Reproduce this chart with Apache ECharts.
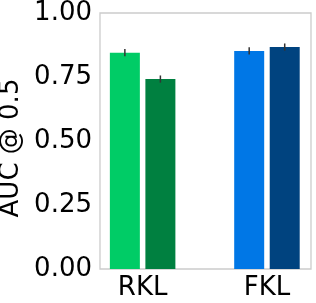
<!DOCTYPE html>
<html>
<head>
<meta charset="utf-8">
<script src="https://cdn.jsdelivr.net/npm/echarts@6/dist/echarts.min.js"></script>
<style>
html,body{margin:0;padding:0;background:#fff;}
#chart{width:316px;height:303px;}
</style>
</head>
<body>
<div id="chart"></div>
<script>
// Data
const categories = ['RKL', 'FKL'];
const categoryCenters = [0, 3.5];          // x-axis value of each group centre
const barOffsets = [-0.5, 0.5];            // two bars per group
const rklValues = [0.845, 0.742];
const fklValues = [0.852, 0.867];
const rklErrors = [0.014, 0.014];
const fklErrors = [0.014, 0.014];
const barColors = ['#00cc66', '#008040', '#0077e6', '#00437f'];
const yTicks = [0, 0.25, 0.5, 0.75, 1.0];

const groups = [rklValues, fklValues];
const groupErrors = [rklErrors, fklErrors];
const barData = [];
const errData = [];
groups.forEach((vals, g) => {
  vals.forEach((v, i) => {
    const x = categoryCenters[g] + barOffsets[i];
    barData.push({value: [x, v], itemStyle: {color: barColors[g * 2 + i]}});
    errData.push([x, v - groupErrors[g][i], v + groupErrors[g][i]]);
  });
});

const chart = echarts.init(document.getElementById('chart'), null, {renderer: 'canvas'});
const font = 'DejaVu Sans';
chart.setOption({
  animation: false,
  grid: {left: 100, right: 5, top: 13, bottom: 34, show: true, borderColor: '#cccccc', borderWidth: 1.3,
    containLabel: false, outerBoundsMode: 'none'},
  xAxis: {
    type: 'value', min: -1.2, max: 4.74, interval: 0.1,
    axisLine: {show: false}, axisTick: {show: false}, splitLine: {show: false},
    axisLabel: {
      margin: 6, fontSize: 26, fontFamily: font, color: '#000',
      showMinLabel: false, showMaxLabel: false,
      formatter: function (v) {
        for (let k = 0; k < categoryCenters.length; k++) {
          if (Math.abs(v - categoryCenters[k]) < 1e-6) return categories[k];
        }
        return '';
      }
    }
  },
  yAxis: {
    type: 'value', min: 0, max: 1, interval: 0.25,
    name: 'AUC @ 0.5', nameLocation: 'middle', nameGap: 76, nameMoveOverlap: false,
    nameTextStyle: {fontSize: 26, fontFamily: font, color: '#000', padding: [0, 14, 0, 0]},
    axisLine: {show: false}, axisTick: {show: false}, splitLine: {show: false},
    axisLabel: {margin: 8, fontSize: 26, fontFamily: font, color: '#000',
      formatter: v => v.toFixed(2)}
  },
  series: [
    {type: 'bar', data: barData, barWidth: 30},
    {
      type: 'custom', data: errData, z: 10,
      renderItem: function (params, api) {
        const x = api.value(0);
        const p1 = api.coord([x, api.value(1)]);
        const p2 = api.coord([x, api.value(2)]);
        return {type: 'line', shape: {x1: p1[0], y1: p1[1], x2: p2[0], y2: p2[1]},
          style: {stroke: '#333333', lineWidth: 1.5}};
      }
    }
  ]
});
</script>
</body>
</html>
